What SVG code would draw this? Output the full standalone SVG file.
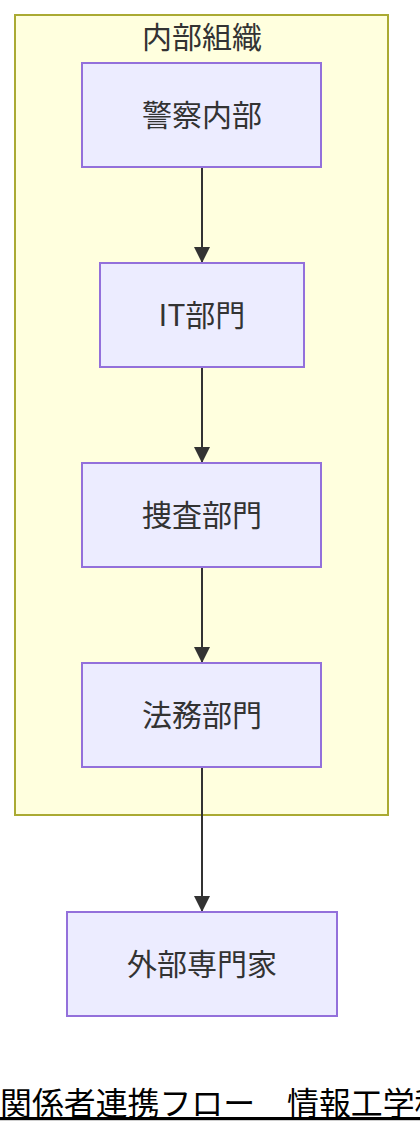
<svg xmlns="http://www.w3.org/2000/svg" width="420" height="1136" viewBox="0 0 420 1136">
<defs>
<style>
.cluster{fill:#ffffde;stroke:#aaaa33;stroke-width:2}
.node rect{fill:#ececff;stroke:#9370db;stroke-width:2}
.label{font-family:"Noto Sans CJK JP","Noto Sans",sans-serif;font-size:30px;fill:#333333;text-anchor:middle;dominant-baseline:central}
.edge{stroke:#333333;stroke-width:2;fill:none}
.caption{font-family:"Noto Sans CJK JP","Noto Sans",sans-serif;font-size:31.9px;fill:#000000}
</style>
<marker id="arrow" viewBox="0 0 10 10" refX="10" refY="5" markerWidth="8" markerHeight="8" markerUnits="strokeWidth" orient="auto">
<path d="M0,0 L10,5 L0,10 z" fill="#333333"/>
</marker>
</defs>
<g id="cluster-internal">
<rect class="cluster" x="15" y="15" width="373" height="800"/>
<text class="label" x="202" y="35">内部組織</text>
</g>
<g id="edges">
<line class="edge" x1="202" y1="167" x2="202" y2="263" marker-end="url(#arrow)"/>
<line class="edge" x1="202" y1="367" x2="202" y2="463" marker-end="url(#arrow)"/>
<line class="edge" x1="202" y1="567" x2="202" y2="663" marker-end="url(#arrow)"/>
<line class="edge" x1="202" y1="767" x2="202" y2="912" marker-end="url(#arrow)"/>
</g>
<g id="node-police" class="node">
<rect x="82" y="63" width="239" height="104"/>
<text class="label" x="202" y="112.5">警察内部</text>
</g>
<g id="node-it" class="node">
<rect x="100" y="263" width="204" height="104"/>
<text class="label" x="202" y="312.5">IT部門</text>
</g>
<g id="node-investigation" class="node">
<rect x="82" y="463" width="239" height="104"/>
<text class="label" x="202" y="512.5">捜査部門</text>
</g>
<g id="node-legal" class="node">
<rect x="82" y="663" width="239" height="104"/>
<text class="label" x="202" y="712.5">法務部門</text>
</g>
<g id="node-external" class="node">
<rect x="67" y="912" width="270" height="104"/>
<text class="label" x="202" y="961.5">外部専門家</text>
</g>
<text class="caption" x="0" y="1115" text-decoration="underline">関係者連携フロー　情報工学科</text>
</svg>
